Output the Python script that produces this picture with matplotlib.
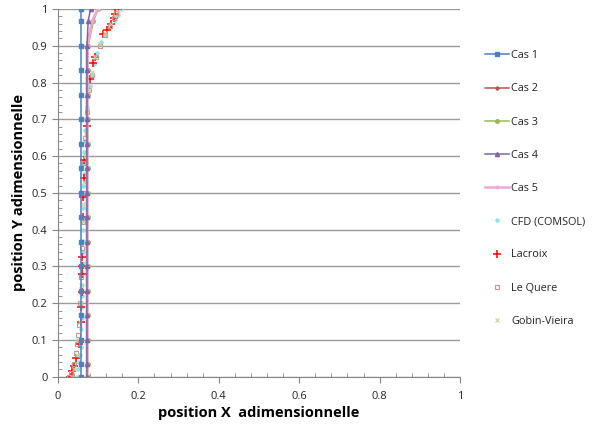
import matplotlib
matplotlib.use("Agg")
import matplotlib.pyplot as plt
from matplotlib.ticker import MultipleLocator, FuncFormatter
from matplotlib.lines import Line2D

# ---- data
y_cas = [0.0, 0.0333, 0.1, 0.1667, 0.2333, 0.3, 0.3667, 0.4333, 0.5,
         0.5667, 0.6333, 0.7, 0.7667, 0.8333, 0.9, 0.9667, 1.0]
x_cas1 = [0.058] * 17
x_cas2 = [0.071] * 15 + [0.085, 0.100]
x_cas3 = [0.074] * 14 + [0.075, 0.088, 0.100]
x_cas4 = [0.072] * 15 + [0.075, 0.081]
x_cas5 = [0.073] * 14 + [0.074, 0.084, 0.099]

y_cfd = [0.0, 0.02, 0.04, 0.06, 0.08, 0.10, 0.13, 0.16, 0.19, 0.22, 0.25, 0.28,
         0.31, 0.34, 0.37, 0.40, 0.43, 0.46, 0.49, 0.52, 0.55, 0.58, 0.61, 0.64,
         0.67, 0.70, 0.73, 0.76, 0.79, 0.82, 0.85, 0.88, 0.91, 0.93, 0.95, 0.97,
         0.985, 1.0]
x_cfd = [0.048, 0.050, 0.052, 0.054, 0.056, 0.057, 0.058, 0.059, 0.059, 0.060,
         0.060, 0.060, 0.061, 0.061, 0.061, 0.062, 0.062, 0.062, 0.063, 0.063,
         0.064, 0.064, 0.065, 0.066, 0.068, 0.070, 0.072, 0.075, 0.079, 0.084,
         0.090, 0.098, 0.108, 0.118, 0.130, 0.142, 0.150, 0.156]

y_lacroix = [0.0, 0.015, 0.03, 0.05, 0.09, 0.15, 0.19, 0.23, 0.28, 0.30, 0.325,
             0.435, 0.49, 0.54, 0.59, 0.682, 0.811, 0.852, 0.870, 0.931, 0.943,
             0.959, 0.975, 0.986, 0.999]
x_lacroix = [0.030, 0.036, 0.041, 0.045, 0.051, 0.056, 0.058, 0.059, 0.059, 0.059,
             0.060, 0.062, 0.063, 0.065, 0.065, 0.071, 0.080, 0.086, 0.092, 0.113,
             0.121, 0.131, 0.139, 0.143, 0.148]

y_lequere = [0.0, 0.01, 0.035, 0.064, 0.09, 0.113, 0.14, 0.2, 0.27, 0.35, 0.42,
             0.5, 0.58, 0.65, 0.72, 0.78, 0.82, 0.87, 0.9, 0.93, 0.955, 0.975, 0.99]
x_lequere = [0.027, 0.033, 0.040, 0.044, 0.048, 0.050, 0.053, 0.055, 0.058, 0.060,
             0.062, 0.063, 0.065, 0.068, 0.072, 0.078, 0.084, 0.095, 0.105, 0.118,
             0.130, 0.140, 0.145]

y_gobin = [0.0, 0.02, 0.06, 0.1, 0.15, 0.2, 0.25, 0.3, 0.36, 0.42, 0.47, 0.53,
           0.6, 0.66, 0.73, 0.78, 0.83, 0.87, 0.905, 0.935, 0.96, 0.98, 0.995]
x_gobin = [0.035, 0.040, 0.046, 0.050, 0.054, 0.056, 0.058, 0.060, 0.060, 0.061,
           0.062, 0.064, 0.066, 0.069, 0.073, 0.078, 0.085, 0.093, 0.104, 0.118,
           0.132, 0.142, 0.148]

plt.rcParams["font.family"] = ["Open Sans", "DejaVu Sans"]

fig = plt.figure(figsize=(5.92, 4.25), dpi=100)
ax = fig.add_axes([0.098, 0.1136, 0.679, 0.8652])

# ---- experimental / CFD points
ax.plot(x_cfd, y_cfd, ls="none", marker="o", ms=2.2, color="#8EE3F0", mec="#8EE3F0", label="CFD (COMSOL)")
ax.plot(x_lacroix, y_lacroix, ls="none", marker="+", ms=6, mew=1.1, color="#FF0000", label="Lacroix")
ax.plot(x_lequere, y_lequere, ls="none", marker="s", ms=2.6, mfc="none", mew=0.8, color="#C99490", label="Le Quere")
ax.plot(x_gobin, y_gobin, ls="none", marker="x", ms=2.6, mew=0.8, color="#C3D69B", label="Gobin-Vieira")

# ---- model cases
ax.plot(x_cas1, y_cas, color="#4F81BD", lw=1.1, marker="s", ms=3.2, label="Cas 1")
ax.plot(x_cas2, y_cas, color="#C0504D", lw=1.1, marker="D", ms=1.8, label="Cas 2")
ax.plot(x_cas3, y_cas, color="#9BBB59", lw=1.1, marker="o", ms=2.6, label="Cas 3")
ax.plot(x_cas5, y_cas, color="#F2A7D8", lw=1.8, marker="o", ms=1.8, label="Cas 5")
ax.plot(x_cas4, y_cas, color="#8064A2", lw=1.1, marker="^", ms=3, label="Cas 4")

ax.set_xlim(0, 1)
ax.set_ylim(0, 1)
ax.xaxis.set_major_locator(MultipleLocator(0.2))
ax.xaxis.set_minor_locator(MultipleLocator(0.04))
ax.yaxis.set_major_locator(MultipleLocator(0.1))
ax.yaxis.set_minor_locator(MultipleLocator(0.02))
fmt = FuncFormatter(lambda v, p: "0" if abs(v) < 1e-9 else ("1" if abs(v - 1) < 1e-9 else f"{v:.1f}"))
ax.xaxis.set_major_formatter(fmt)
ax.yaxis.set_major_formatter(fmt)
ax.tick_params(which="major", direction="out", length=4, color="#868686", labelsize=8, labelcolor="#222222")
ax.tick_params(which="minor", direction="in", length=3, color="#868686")
ax.tick_params(axis="x", pad=6)

ax.grid(axis="y", which="major", color="#9A9A9A", lw=1)
ax.set_axisbelow(True)
for s in ("top", "right"):
    ax.spines[s].set_visible(False)
for s in ("left", "bottom"):
    ax.spines[s].set_color("#868686")

ax.set_xlabel("position X  adimensionnelle", fontsize=10.5, fontweight="bold", labelpad=3)
ax.set_ylabel("position Y adimensionnelle", fontsize=10.5, fontweight="bold", labelpad=4)

# ---- legend in Excel order
handles = [
    Line2D([], [], color="#4F81BD", lw=1.1, marker="s", ms=3.2),
    Line2D([], [], color="#C0504D", lw=1.1, marker="D", ms=1.8),
    Line2D([], [], color="#9BBB59", lw=1.1, marker="o", ms=2.6),
    Line2D([], [], color="#8064A2", lw=1.1, marker="^", ms=3),
    Line2D([], [], color="#F2A7D8", lw=1.8, marker="o", ms=1.8),
    Line2D([], [], ls="none", marker="o", ms=2.2, color="#8EE3F0"),
    Line2D([], [], ls="none", marker="+", ms=6, mew=1.1, color="#FF0000"),
    Line2D([], [], ls="none", marker="s", ms=2.6, mfc="none", mew=0.8, color="#C99490"),
    Line2D([], [], ls="none", marker="x", ms=2.6, mew=0.8, color="#C3D69B"),
]
labels = ["Cas 1", "Cas 2", "Cas 3", "Cas 4", "Cas 5", "CFD (COMSOL)", "Lacroix", "Le Quere", "Gobin-Vieira"]
fig.legend(handles, labels, loc="upper left", bbox_to_anchor=(0.803, 0.905), frameon=False,
           fontsize=7.8, labelspacing=2.05, handlelength=2.2, handletextpad=0.2,
           labelcolor="#222222")

fig.savefig("out.png", dpi=100)
